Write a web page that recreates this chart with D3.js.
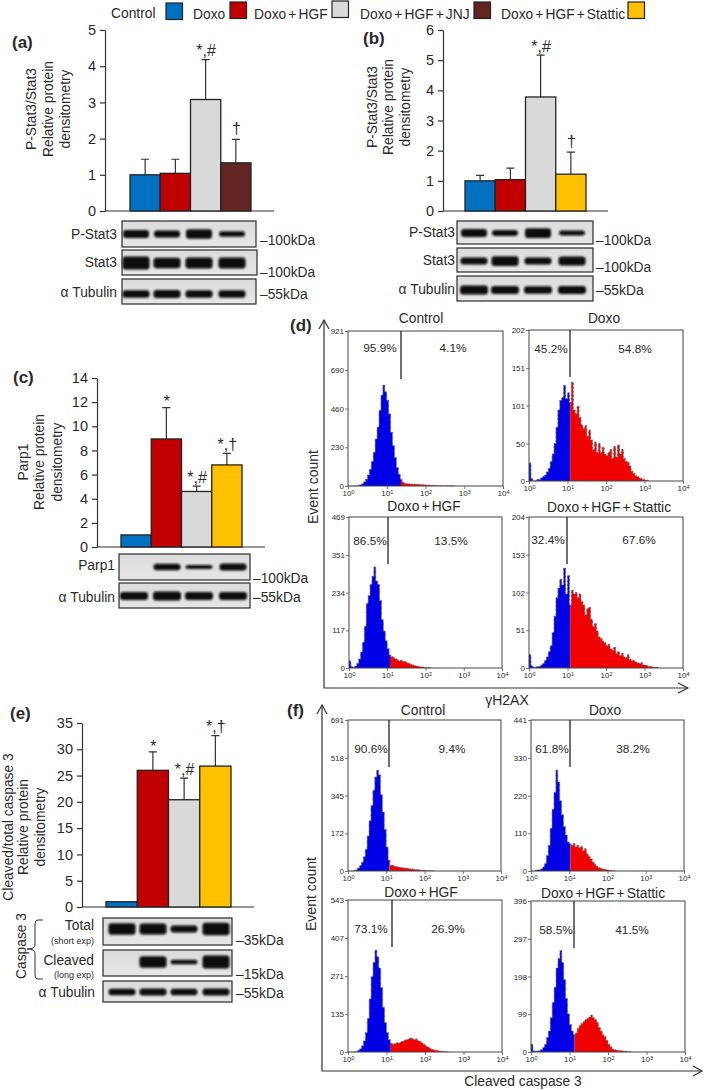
<!DOCTYPE html>
<html><head><meta charset="utf-8">
<script src="https://cdnjs.cloudflare.com/ajax/libs/d3/7.8.5/d3.min.js"></script>
<style>
html,body{margin:0;padding:0;background:#fff}
svg{display:block}
text{font-family:"Liberation Sans",Arial,sans-serif;fill:#2a2a2a}
</style></head><body><svg id="c" width="709" height="1090"></svg>
<script>
// ---------- data ----------
const groupNames = ["Doxo","Doxo + HGF","Doxo + HGF + JNJ","Doxo + HGF + Stattic"];
const blue="#0070C0",red="#C00000",grey="#D9D9D9",brown="#632523",yellow="#FFC000";

const aValues=[1,1.04,3.08,1.33], aErrTop=[1.43,1.43,4.18,1.98], aMarks=["","","*,#","†"];
const bValues=[1,1.04,3.78,1.22], bErrTop=[1.18,1.42,5.17,1.95], bMarks=["","","*,#","†"];
const cValues=[1,8.95,4.6,6.8],   cErrTop=[null,11.55,5.05,7.75], cMarks=["","*","*,#","*,†"];
const eValues=[1,26,20.4,26.8],   eErrTop=[null,29.5,24.5,32.6],  eMarks=["","*","*,#","*,†"];

// blot band strength per lane (0 = no band)
const aBlot1=[.62,.52,.72,.42], aBlot2=[1,.8,.85,.85], aBlot3=[.58,.6,.58,.58];
const bBlot1=[.6,.45,.75,.38],  bBlot2=[.55,.75,.55,.7], bBlot3=[.68,.62,.58,.62];
const cBlot1=[0,.5,.3,.52],     cBlot2=[.62,.68,.62,.62];
const eBlot1=[.9,.85,.55,.95],  eBlot2=[0,.9,.35,1], eBlot3=[.5,.55,.5,.52];

// histogram counts, one value per 0.05 log10 step from 10^0
const binStep=0.05;
const dControl=[0,0,0,0,2,3,8,14,25,40,65,100,145,200,280,350,450,540,600,560,510,430,320,240,170,110,70,40,22,16,14,13,12,11,12,10,10,9,8,7,6,6,5,4,4,3,3,2,2,2,2,1,1,1,1,0];
const dDoxo=[24,3,0,0,2,2,4,6,8,12,17,26,36,50,72,95,108,112,128,110,118,105,132,95,90,100,85,75,70,74,60,68,55,42,52,38,50,38,45,36,34,38,42,30,46,32,48,36,42,30,26,25,20,13,10,7,6,4,3,2,1,1,0];
const dHgf=[22,5,2,6,14,28,50,80,130,200,225,260,285,314,270,260,210,150,115,85,60,40,35,33,28,26,22,24,20,20,16,14,12,9,8,6,5,4,3,2,2,1,1,0];
const dStattic=[18,3,1,1,2,2,4,6,10,15,22,30,48,70,95,108,120,112,135,100,125,85,105,100,102,95,100,90,85,72,80,82,66,56,60,50,42,40,36,34,30,32,26,24,28,20,22,17,20,15,14,18,12,10,10,8,7,6,7,4,4,3,2,2,1,1,1,0];
const fControl=[0,0,0,2,6,14,25,40,65,100,160,230,300,370,430,462,440,350,270,190,110,50,26,26,22,20,18,16,15,14,13,12,10,9,8,7,6,5,4,3,3,2,2,1,1,0];
const fDoxo=[0,0,2,3,4,6,12,22,45,75,125,180,230,295,260,205,165,130,105,85,80,75,80,70,75,68,72,60,65,50,42,35,26,20,14,10,8,6,5,4,3,2,1,1,0];
const fHgf=[0,0,0,0,2,6,12,22,40,70,120,190,270,320,364,340,300,230,160,105,70,45,32,28,30,33,32,36,38,42,44,46,50,48,44,47,40,38,32,28,22,18,14,10,8,6,5,4,3,2,2,1,0];
const fStattic=[20,3,2,2,4,6,12,20,38,55,90,130,170,220,245,266,235,190,140,100,72,55,46,50,62,70,75,80,85,88,92,97,90,85,78,65,55,45,40,30,20,14,8,6,5,4,3,3,2,2,1,1,0];

const histTicks=[[921,690,460,230,0],[202,151,101,50,0],[469,351,234,117,0],[204,153,102,51,0],
                 [691,518,345,172,0],[441,330,220,110,0],[543,407,271,135,0],[396,297,198,99,0]];
const decades=[1,10,100,1000,10000];

// ---------- helpers ----------
const LABEL=13.8;
const svg=d3.select("#c");
const defs=svg.append("defs");
const g0=defs.append("linearGradient").attr("id","blotBg").attr("x1",0).attr("x2",0).attr("y1",0).attr("y2",1);
g0.append("stop").attr("offset",0).attr("stop-color","#dcdcdc");
g0.append("stop").attr("offset",1).attr("stop-color","#e6e6e6");
defs.append("filter").attr("id","soft").attr("x","-20%").attr("y","-60%").attr("width","140%").attr("height","220%")
  .append("feGaussianBlur").attr("stdDeviation",1);

function txt(x,y,s,size,anchor="middle",extra={}){
  const t=svg.append("text").attr("x",x).attr("y",y).attr("dy","0.35em").attr("font-size",size)
    .attr("text-anchor",anchor).text(s);
  Object.entries(extra).forEach(([k,v])=>t.attr(k,v));
  return t;
}
function vtxt(x,y,s,size){
  return svg.append("text").attr("transform",`translate(${x},${y}) rotate(-90)`).attr("dy","0.35em")
    .attr("text-anchor","middle").attr("font-size",size).text(s);
}

function barChart(o){
  const g=svg.append("g");
  const y=d3.scaleLinear().domain([0,o.max]).range([o.y0,o.y1]);
  const x=d3.scaleBand().domain(d3.range(o.values.length)).range([o.bx0,o.bx1]).padding(0);
  const rows=o.values.map((v,i)=>({v,i,e:o.err[i],m:o.marks[i]}));
  const ax=g.append("g").attr("transform",`translate(${o.ax},0)`)
    .call(d3.axisLeft(y).tickValues(d3.range(0,o.max+o.step/2,o.step)).tickFormat(d3.format("d")).tickSize(5).tickPadding(4).tickSizeOuter(0));
  ax.selectAll("path,line").attr("stroke","#333").attr("stroke-width",1.2);
  ax.selectAll("text").attr("font-size",14.5).attr("fill","#2a2a2a");
  g.append("line").attr("x1",o.ax).attr("x2",o.axEnd).attr("y1",o.y0).attr("y2",o.y0).attr("stroke","#333").attr("stroke-width",1.2);
  g.selectAll(".err").data(rows.filter(r=>r.e!=null)).enter().append("path")
    .attr("fill","none").attr("stroke","#333").attr("stroke-width",1.2)
    .attr("d",r=>{const c=x(r.i)+x.bandwidth()/2;return `M${c},${y(r.v)}V${y(r.e)}M${c-4},${y(r.e)}H${c+4}`;});
  g.selectAll(".bar").data(rows).enter().append("rect")
    .attr("x",r=>x(r.i)).attr("width",x.bandwidth()).attr("y",r=>y(r.v)).attr("height",r=>o.y0-y(r.v))
    .attr("fill",r=>o.colors[r.i]).attr("stroke","#222").attr("stroke-width",1.3);
  rows.filter(r=>r.m).forEach(r=>{
    txt(x(r.i)+x.bandwidth()/2+0.5,y(r.e)+o.markDy[r.i],r.m,16);
  });
  o.titles.forEach(t=>vtxt(t[0],o.titleY,t[1],LABEL));
}

function blotBands(o){
  const g=svg.append("g");
  g.append("rect").attr("x",o.x0).attr("y",o.y0).attr("width",o.x1-o.x0).attr("height",o.y1-o.y0).attr("fill","url(#blotBg)");
  const th=d3.scaleLinear().domain([0,1]).range([0,13]);
  g.selectAll(".band").data(o.bands.map((b,i)=>({b,i})).filter(d=>d.b>0)).enter().append("rect")
    .attr("filter","url(#soft)").attr("rx",3)
    .attr("x",d=>o.lanes[d.i]-o.w/2).attr("width",o.w)
    .attr("y",d=>o.by-th(d.b)/2).attr("height",d=>th(d.b)).attr("fill","#0c0c0c");
  g.append("rect").attr("x",o.x0).attr("y",o.y0).attr("width",o.x1-o.x0).attr("height",o.y1-o.y0)
    .attr("fill","none").attr("stroke","#2a2a2a").attr("stroke-width",1.2);
}

let histId=0;
function hist(o){
  const id="h"+(histId++);
  const g=svg.append("g");
  const x=d3.scaleLog().domain([1,1e4]).range([o.x0,o.x1]);
  const y=d3.scaleLinear().domain([0,o.ticks[0]]).range([o.y0,o.y1]);
  const bins=o.counts.map((c,i)=>({lx:i*binStep,c}));
  const split=x(Math.pow(10,o.split));
  const area=d3.area().x(d=>x(Math.pow(10,d.lx))).y0(o.y0).y1(d=>y(d.c)).curve(d3.curveStepAfter);
  const line=d3.line().x(d=>x(Math.pow(10,d.lx))).y(d=>y(d.c)).curve(d3.curveStepAfter);
  defs.append("clipPath").attr("id",id+"b").append("rect").attr("x",o.x0).attr("y",o.y1).attr("width",split-o.x0).attr("height",o.y0-o.y1);
  defs.append("clipPath").attr("id",id+"r").append("rect").attr("x",split).attr("y",o.y1).attr("width",o.x1-split).attr("height",o.y0-o.y1);
  g.append("path").attr("d",area(bins)).attr("fill","#0000e6").attr("clip-path",`url(#${id}b)`);
  g.append("path").attr("d",area(bins)).attr("fill","#f00000").attr("clip-path",`url(#${id}r)`);
  g.append("path").attr("d",line(bins)).attr("fill","none").attr("stroke","#8a8a8a").attr("stroke-width",.5);
  g.append("path").attr("d",line(bins)).attr("fill","none").attr("stroke","#111").attr("stroke-width",.55)
    .attr("stroke-dasharray",o.dash).attr("stroke-opacity",.75);
  g.append("rect").attr("x",o.x0).attr("y",o.y1).attr("width",o.x1-o.x0).attr("height",o.y0-o.y1)
    .attr("fill","none").attr("stroke","#444").attr("stroke-width",1);
  const ay=g.append("g").attr("transform",`translate(${o.x0},0)`)
    .call(d3.axisLeft(y).tickValues(o.ticks).tickFormat(d3.format("d")).tickSize(3).tickPadding(1).tickSizeOuter(0));
  ay.selectAll("path").remove();
  ay.selectAll("line").attr("stroke","#555").attr("stroke-width",.8);
  ay.selectAll("text").attr("font-size",8).attr("fill","#4a3a2a");
  const ax=g.append("g").attr("transform",`translate(0,${o.y0})`)
    .call(d3.axisBottom(x).tickValues(decades).tickFormat(()=>"").tickSize(3).tickPadding(1).tickSizeOuter(0));
  ax.selectAll("path").remove();
  ax.selectAll("line").attr("stroke","#555").attr("stroke-width",.8);
  ax.selectAll("text").each(function(d){
    const t=d3.select(this).attr("font-size",8).attr("fill","#333").attr("dy","0.75em");
    t.append("tspan").text("10");
    t.append("tspan").attr("font-size",5.5).attr("dy","-2.5").text(Math.round(Math.log10(d)));
  });
  g.append("line").attr("x1",o.gx).attr("x2",o.gx).attr("y1",o.y1).attr("y2",o.gy).attr("stroke","#222").attr("stroke-width",1.3);
  txt(o.tx,o.ty,o.title,LABEL,"middle",{"word-spacing":"-1.75px"});
  txt(o.p1x,o.py,o.p1,11.8);
  txt(o.p2x,o.py,o.p2,11.8);
}

// ---------- legend ----------
const swatches=[[166,3,blue],[230,2,red],[332,1,grey],[474,2,brown],[628,2,yellow]];
svg.selectAll(".sw").data(swatches).enter().append("rect")
  .attr("x",d=>d[0]).attr("y",d=>d[1]).attr("width",16.5).attr("height",16.5)
  .attr("fill",d=>d[2]).attr("stroke","#222").attr("stroke-width",1.2);
txt(111,13.5,"Control",LABEL,"start");
[[193,14],[254,14],[360,14],[501,14]].forEach((p,i)=>txt(p[0],p[1],groupNames[i],LABEL,"start",{"word-spacing":"-1.75px"}));

// ---------- panel letters ----------
[[12,42,"(a)"],[363,38,"(b)"],[13,377,"(c)"],[290,325,"(d)"],[10,713,"(e)"],[287,710,"(f)"]]
  .forEach(p=>txt(p[0],p[1],p[2],17,"start",{"font-weight":"bold"}));

// ---------- bars ----------
barChart({values:aValues,err:aErrTop,marks:aMarks,max:5,step:1,y0:211,y1:30,ax:105,axEnd:274,bx0:130,bx1:251,
  colors:[blue,red,grey,brown],markDy:[0,0,-9,-11],
  titles:[[31,"P-Stat3/Stat3"],[48,"Relative protein"],[65,"densitometry"]],titleY:109});
barChart({values:bValues,err:bErrTop,marks:bMarks,max:6,step:1,y0:211,y1:30,ax:443,axEnd:608,bx0:465,bx1:586,
  colors:[blue,red,grey,yellow],markDy:[0,0,-9,-11],
  titles:[[372,"P-Stat3/Stat3"],[388,"Relative protein"],[405,"densitometry"]],titleY:107});
barChart({values:cValues,err:cErrTop,marks:cMarks,max:14,step:2,y0:547,y1:378,ax:97,axEnd:265,bx0:121,bx1:242,
  colors:[blue,red,grey,yellow],markDy:[0,-6,-9,-9],
  titles:[[23,"Parp1"],[39,"Relative protein"],[57,"densitometry"]],titleY:462});
barChart({values:eValues,err:eErrTop,marks:eMarks,max:35,step:5,y0:907,y1:723,ax:82,axEnd:254,bx0:106,bx1:231,
  colors:[blue,red,grey,yellow],markDy:[0,-6,-9,-9],
  titles:[[8,"Cleaved/total caspase 3"],[23,"Relative protein"],[40,"densitometry"]],titleY:827});

// ---------- blots ----------
const aL=[136,167,199,232], bL=[474,505,538,572], cL=[134,167,199,233], eL=[122,153,184,216];
blotBands({bands:aBlot1,lanes:aL,w:26,x0:122,x1:256,y0:221,y1:247,by:234});
blotBands({bands:aBlot2,lanes:aL,w:27,x0:122,x1:257,y0:250,y1:275,by:263});
blotBands({bands:aBlot3,lanes:aL,w:27,x0:122,x1:256,y0:279,y1:304,by:294});
blotBands({bands:bBlot1,lanes:bL,w:26,x0:457,x1:593,y0:221,y1:244,by:233});
blotBands({bands:bBlot2,lanes:bL,w:27,x0:457,x1:593,y0:248,y1:272,by:261});
blotBands({bands:bBlot3,lanes:bL,w:28,x0:457,x1:593,y0:276,y1:301,by:290});
blotBands({bands:cBlot1,lanes:cL,w:27,x0:119,x1:250,y0:554,y1:580,by:567});
blotBands({bands:cBlot2,lanes:cL,w:28,x0:119,x1:250,y0:583,y1:608,by:596});
blotBands({bands:eBlot1,lanes:eL,w:27,x0:103,x1:232,y0:918,y1:945,by:929});
blotBands({bands:eBlot2,lanes:eL,w:27,x0:103,x1:232,y0:950,y1:976,by:962});
blotBands({bands:eBlot3,lanes:eL,w:27,x0:103,x1:232,y0:981,y1:1002,by:992});

[[117,234,"P-Stat3"],[117,262,"Stat3"],[117,292,"α Tubulin"],
 [455,232,"P-Stat3"],[455,260,"Stat3"],[455,289,"α Tubulin"],
 [115,565,"Parp1"],[115,597,"α Tubulin"],
 [94,925,"Total"],[94,960,"Cleaved"],[95,992,"α Tubulin"]].forEach(p=>txt(p[0],p[1],p[2],LABEL,"end"));
[[94,941,"(short exp)"],[94,975,"(long exp)"]].forEach(p=>txt(p[0],p[1],p[2],9,"end",{"fill":"#555"}));
[[260,240,"–100kDa"],[260,272,"–100kDa"],[260,294,"–55kDa"],
 [596,240,"–100kDa"],[596,267,"–100kDa"],[596,290,"–55kDa"],
 [253,578,"–100kDa"],[253,597,"–55kDa"],
 [236,940,"–35kDa"],[236,974,"–15kDa"],[236,993,"–55kDa"]].forEach(p=>txt(p[0],p[1],p[2],LABEL,"start"));
vtxt(21,946,"Caspase 3",LABEL);
svg.append("path").attr("fill","none").attr("stroke","#333").attr("stroke-width",1)
  .attr("d","M43,920H38Q35,920 35,924V945Q35,949 27,949Q35,949 35,953V975Q35,979 38,979H43");

// ---------- histograms ----------
const cleanDash="1 5", roughDash="1.5 2.5";
hist({counts:dControl,dash:cleanDash,ticks:histTicks[0],x0:348,x1:503,y0:486,y1:331,split:1.37,gx:401,gy:379,
  title:"Control",tx:421,ty:318,p1:"95.9%",p1x:380,p2:"4.1%",p2x:453,py:348});
hist({counts:dDoxo,dash:roughDash,ticks:histTicks[1],x0:529,x1:683,y0:481,y1:330,split:1.07,gx:570,gy:377,
  title:"Doxo",tx:604,ty:318,p1:"45.2%",p1x:551,p2:"54.8%",p2x:635,py:349});
hist({counts:dHgf,dash:cleanDash,ticks:histTicks[2],x0:349,x1:502,y0:668,y1:517,split:1.07,gx:388,gy:564,
  title:"Doxo + HGF",tx:424,ty:506,p1:"86.5%",p1x:370,p2:"13.5%",p2x:451,py:541});
hist({counts:dStattic,dash:roughDash,ticks:histTicks[3],x0:529,x1:683,y0:668,y1:517,split:1.07,gx:567,gy:564,
  title:"Doxo + HGF + Stattic",tx:609,ty:507,p1:"32.4%",p1x:548,p2:"67.6%",p2x:639,py:540});
hist({counts:fControl,dash:cleanDash,ticks:histTicks[4],x0:348,x1:501,y0:871,y1:720,split:1.08,gx:389,gy:767,
  title:"Control",tx:423,ty:710,p1:"90.6%",p1x:371,p2:"9.4%",p2x:452,py:749});
hist({counts:fDoxo,dash:cleanDash,ticks:histTicks[5],x0:531,x1:684,y0:871,y1:720,split:1.03,gx:570,gy:767,
  title:"Doxo",tx:605,ty:710,p1:"61.8%",p1x:552,p2:"38.2%",p2x:633,py:749});
hist({counts:fHgf,dash:cleanDash,ticks:histTicks[6],x0:348,x1:502,y0:1052,y1:900,split:1.11,gx:392,gy:947,
  title:"Doxo + HGF",tx:421,ty:892,p1:"73.1%",p1x:371,p2:"26.9%",p2x:448,py:929});
hist({counts:fStattic,dash:cleanDash,ticks:histTicks[7],x0:531,x1:685,y0:1052,y1:901,split:1.13,gx:574,gy:948,
  title:"Doxo + HGF + Stattic",tx:603,ty:893,p1:"58.5%",p1x:556,p2:"41.5%",p2x:632,py:930});

// ---------- frame axes ----------
[["M324,320V688H688","M319,329L324,320L329,329","M678,683L688,688L678,693"],
 ["M322,705V1071H702","M317,714L322,705L327,714","M693,1066L702,1071L693,1076"]]
 .forEach(a=>a.forEach(d=>svg.append("path").attr("d",d).attr("fill","none").attr("stroke","#333").attr("stroke-width",1.2)));
vtxt(313,487,"Event count",14);
vtxt(311,894,"Event count",14);
txt(507,700,"γH2AX",14);
txt(523,1081,"Cleaved  caspase 3",13.8);
</script></body></html>
